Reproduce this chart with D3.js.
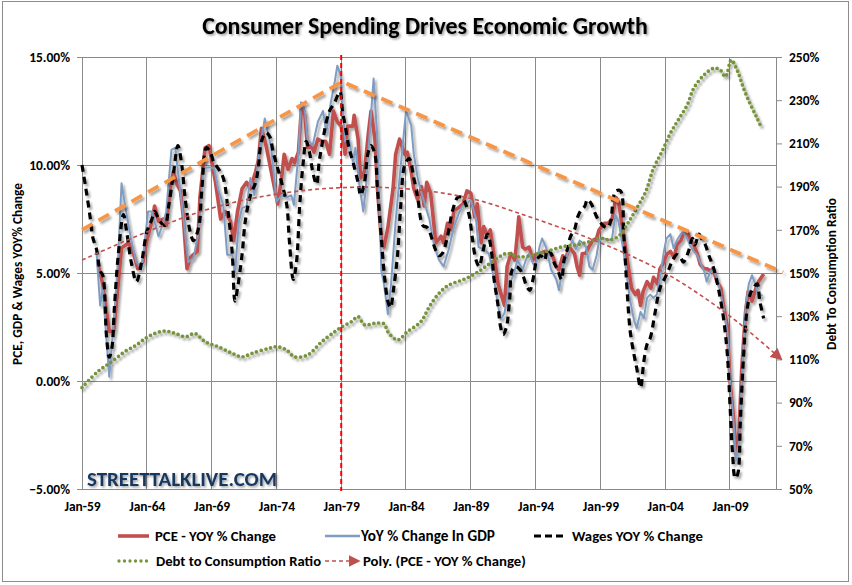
<!DOCTYPE html>
<html><head><meta charset="utf-8">
<script src="https://cdn.jsdelivr.net/npm/d3@7"></script>
<style>
html,body{margin:0;padding:0;background:#fff;}
svg{display:block;}
text{font-family:Carlito,Lato,"Open Sans",sans-serif;font-weight:bold;}
</style></head>
<body><svg id="c" width="852" height="585"></svg>
<script>
// ---------- DATA ----------
const title = "Consumer Spending Drives Economic Growth";
const leftTitle = "PCE, GDP & Wages YOY% Change";
const rightTitle = "Debt To Consumption Ratio";
const watermark = "STREETTALKLIVE.COM";
const xTickYears = [1959,1964,1969,1974,1979,1984,1989,1994,1999,2004,2009];
const xTickLabels = ["Jan-59","Jan-64","Jan-69","Jan-74","Jan-79","Jan-84","Jan-89","Jan-94","Jan-99","Jan-04","Jan-09"];
const leftTicks = [-5,0,5,10,15];
const rightTicks = [50,70,90,110,130,150,170,190,210,230,250];
const seriesNames = ["PCE - YOY % Change","YoY % Change In GDP","Wages YOY % Change","Debt to Consumption Ratio","Poly. (PCE - YOY % Change)"];

const pce = [[1960.2,5.5],[1960.6,4.5],[1961.1,2.3],[1961.45,2.3],[1962.05,6.15],[1962.6,6.4],[1963.0,5.85],[1963.3,5.2],[1963.7,5.5],[1964.0,6.5],[1964.4,7.4],[1964.6,8.1],[1964.9,7.4],[1965.3,7.5],[1965.5,7.2],[1965.8,8.9],[1966.05,9.7],[1966.3,9.15],[1966.6,8.8],[1966.8,7.7],[1967.1,5.2],[1967.35,5.7],[1967.6,5.85],[1967.9,6.0],[1968.1,8.5],[1968.5,10.8],[1968.8,10.9],[1969.1,9.85],[1969.3,9.2],[1969.7,7.5],[1970.05,7.85],[1970.45,7.4],[1970.7,6.5],[1971.0,7.85],[1971.35,8.9],[1971.7,9.2],[1972.0,8.9],[1972.4,9.7],[1972.6,10.2],[1972.85,11.7],[1973.2,10.9],[1973.5,10.0],[1973.9,8.8],[1974.1,8.2],[1974.4,9.4],[1974.6,10.5],[1974.9,9.8],[1975.2,10.3],[1975.4,10.1],[1975.7,10.6],[1975.95,12.8],[1976.2,12.3],[1976.4,10.8],[1976.7,10.9],[1976.9,10.6],[1977.2,11.2],[1977.5,11.1],[1977.8,11.1],[1978.1,10.5],[1978.4,12.5],[1978.7,12.0],[1979.0,11.8],[1979.3,10.5],[1979.5,11.8],[1979.9,11.8],[1980.0,12.3],[1980.3,11.2],[1980.5,9.4],[1980.8,9.7],[1981.1,11.5],[1981.3,12.5],[1981.6,11.2],[1981.8,8.9],[1982.1,6.5],[1982.3,6.2],[1982.6,7.1],[1983.0,8.9],[1983.2,10.5],[1983.5,11.2],[1983.9,10.5],[1984.1,10.6],[1984.4,9.7],[1984.6,8.9],[1984.9,8.4],[1985.2,9.0],[1985.4,8.1],[1985.6,9.2],[1985.9,8.7],[1986.3,6.4],[1986.7,6.7],[1986.9,6.4],[1987.2,7.3],[1987.5,7.0],[1987.7,7.9],[1988.0,8.0],[1988.4,8.2],[1988.7,8.8],[1989.0,8.7],[1989.3,7.6],[1989.5,8.2],[1989.8,6.4],[1990.0,7.15],[1990.3,6.7],[1990.5,7.0],[1990.8,5.8],[1991.1,4.5],[1991.3,4.1],[1991.6,3.5],[1991.8,5.3],[1992.1,5.9],[1992.4,5.6],[1992.6,6.85],[1992.7,7.6],[1993.0,6.2],[1993.2,6.1],[1993.5,6.2],[1993.8,5.6],[1994.0,5.85],[1994.3,5.9],[1994.7,6.0],[1995.1,5.9],[1995.3,5.8],[1995.6,5.3],[1995.8,5.15],[1996.1,5.8],[1996.3,5.6],[1996.6,6.2],[1997.0,5.9],[1997.2,5.3],[1997.4,4.9],[1997.6,5.9],[1997.85,5.9],[1998.1,6.2],[1998.4,6.5],[1998.7,6.6],[1998.9,7.0],[1999.3,7.3],[1999.6,7.3],[1999.9,7.5],[2000.2,8.5],[2000.4,8.3],[2000.7,7.1],[2001.1,5.5],[2001.4,4.3],[2001.7,4.0],[2001.9,4.2],[2002.1,3.5],[2002.3,4.15],[2002.6,4.6],[2002.9,4.3],[2003.1,4.8],[2003.4,4.5],[2003.6,5.2],[2003.9,5.5],[2004.1,5.85],[2004.4,6.0],[2004.7,5.7],[2004.9,6.3],[2005.2,6.5],[2005.4,6.8],[2005.7,6.9],[2005.9,6.6],[2006.2,6.3],[2006.5,5.85],[2006.7,5.4],[2007.0,5.2],[2007.2,5.2],[2007.5,5.1],[2007.7,5.2],[2008.0,4.6],[2008.3,4.3],[2008.5,3.5],[2008.8,2.5],[2009.0,0.0],[2009.3,-1.85],[2009.45,-3.4],[2009.7,-2.3],[2009.9,0.5],[2010.2,3.2],[2010.4,4.15],[2010.7,3.7],[2011.0,4.3],[2011.2,4.6],[2011.6,4.95]];

const gdp = [[1960.1,6.15],[1960.4,3.5],[1960.6,4.3],[1961.1,0.2],[1961.5,3.1],[1961.8,5.85],[1962.05,9.15],[1962.4,7.85],[1962.8,6.5],[1963.2,5.5],[1963.6,5.2],[1964.1,7.85],[1964.4,7.85],[1964.9,6.7],[1965.2,7.2],[1965.5,7.85],[1965.9,10.7],[1966.2,10.8],[1966.4,9.7],[1966.8,7.7],[1967.2,5.5],[1967.6,5.7],[1968.0,6.9],[1968.4,9.85],[1968.8,9.9],[1969.2,9.85],[1969.5,8.9],[1969.9,8.15],[1970.2,5.85],[1970.6,5.85],[1970.8,4.9],[1971.1,7.4],[1971.35,8.0],[1971.7,8.1],[1972.0,9.4],[1972.3,8.6],[1972.6,10.3],[1973.1,12.15],[1973.6,10.8],[1974.0,8.3],[1974.4,8.6],[1974.8,8.5],[1975.15,8.6],[1975.35,8.15],[1975.7,10.5],[1975.9,12.9],[1976.2,12.5],[1976.4,11.2],[1976.8,10.9],[1977.2,12.0],[1977.6,12.5],[1977.85,11.5],[1978.2,12.9],[1978.5,13.85],[1978.7,14.6],[1978.95,14.15],[1979.3,11.1],[1979.6,11.2],[1979.9,10.15],[1980.1,10.8],[1980.4,9.1],[1980.7,7.85],[1980.9,8.9],[1981.2,11.5],[1981.5,14.0],[1981.8,11.1],[1982.1,5.1],[1982.3,4.5],[1982.6,3.1],[1982.85,4.5],[1983.2,7.4],[1983.6,10.0],[1984.0,12.5],[1984.4,11.85],[1984.6,10.5],[1984.9,9.4],[1985.15,8.8],[1985.4,8.3],[1985.8,7.5],[1986.2,6.2],[1986.55,5.6],[1986.9,5.3],[1987.3,6.1],[1987.7,7.15],[1988.1,7.8],[1988.35,8.1],[1988.7,8.2],[1989.0,8.4],[1989.4,7.5],[1989.6,6.2],[1990.0,6.1],[1990.4,5.9],[1990.8,4.7],[1991.1,3.5],[1991.3,2.85],[1991.6,3.15],[1992.0,4.5],[1992.35,5.0],[1992.6,5.6],[1993.0,5.15],[1993.25,5.6],[1993.5,5.9],[1993.8,5.45],[1994.0,5.3],[1994.3,6.2],[1994.5,6.6],[1994.8,6.2],[1995.2,5.15],[1995.6,4.7],[1995.8,4.2],[1996.1,5.3],[1996.35,5.6],[1996.6,6.2],[1996.85,6.5],[1997.1,6.1],[1997.4,6.5],[1997.6,6.4],[1997.9,6.2],[1998.15,5.3],[1998.4,5.15],[1998.7,5.8],[1998.9,6.5],[1999.3,6.6],[1999.6,6.5],[1999.9,6.6],[2000.15,7.7],[2000.4,7.4],[2000.7,6.3],[2000.9,5.5],[2001.3,3.7],[2001.6,2.8],[2001.8,2.45],[2002.1,3.2],[2002.35,2.9],[2002.6,3.85],[2002.85,4.0],[2003.1,3.85],[2003.35,4.0],[2003.6,4.8],[2003.9,6.0],[2004.1,6.6],[2004.4,6.8],[2004.65,6.15],[2004.9,6.5],[2005.2,6.8],[2005.4,6.9],[2005.7,6.6],[2005.9,6.3],[2006.2,6.0],[2006.45,5.85],[2006.7,5.5],[2007.0,5.1],[2007.2,4.6],[2007.5,5.1],[2007.7,5.1],[2008.0,4.8],[2008.25,4.15],[2008.5,3.4],[2008.8,2.3],[2009.0,0.0],[2009.3,-2.15],[2009.45,-3.7],[2009.7,-2.8],[2009.9,0.0],[2010.2,3.4],[2010.45,4.5],[2010.7,4.9],[2010.95,4.5],[2011.2,3.85],[2011.5,4.0]];

const wages = [[1959.0,10.0],[1959.3,8.9],[1959.6,7.7],[1959.85,6.6],[1960.1,6.15],[1960.4,5.1],[1960.6,4.9],[1960.9,2.0],[1961.1,1.1],[1961.3,1.5],[1961.5,3.4],[1961.8,5.85],[1962.2,7.7],[1962.45,6.9],[1962.8,5.5],[1963.2,4.6],[1963.6,5.5],[1964.0,6.9],[1964.4,7.5],[1964.6,7.85],[1965.0,7.4],[1965.4,7.2],[1965.7,8.15],[1966.05,9.55],[1966.4,10.9],[1966.7,10.0],[1966.95,8.5],[1967.35,6.9],[1967.6,6.5],[1968.0,7.1],[1968.25,8.9],[1968.6,10.8],[1968.9,10.6],[1969.15,10.15],[1969.5,9.85],[1969.9,9.4],[1970.3,7.7],[1970.6,5.85],[1970.8,3.7],[1971.0,4.3],[1971.35,5.85],[1971.6,7.4],[1972.0,8.6],[1972.4,9.2],[1972.6,9.85],[1972.85,11.1],[1973.2,11.5],[1973.5,11.3],[1973.75,10.6],[1974.1,9.85],[1974.4,9.2],[1974.8,8.15],[1975.0,6.5],[1975.3,4.7],[1975.55,5.5],[1975.8,8.15],[1976.05,10.0],[1976.3,11.1],[1976.55,10.6],[1976.8,9.7],[1977.1,9.1],[1977.3,10.15],[1977.6,11.2],[1977.85,12.0],[1978.1,12.5],[1978.5,12.9],[1978.9,13.4],[1979.1,12.5],[1979.4,11.5],[1979.6,10.8],[1979.9,10.15],[1980.3,9.2],[1980.5,8.6],[1980.8,9.2],[1981.05,10.5],[1981.3,10.9],[1981.6,10.5],[1981.8,8.9],[1982.1,6.6],[1982.3,5.1],[1982.6,3.7],[1982.8,3.4],[1983.05,4.3],[1983.35,5.85],[1983.6,8.15],[1983.9,10.0],[1984.25,10.3],[1984.6,9.4],[1984.9,8.5],[1985.3,7.2],[1985.65,7.1],[1986.05,6.5],[1986.2,6.2],[1986.55,5.8],[1986.8,5.9],[1987.2,6.7],[1987.6,7.9],[1988.0,8.5],[1988.35,8.5],[1988.6,8.2],[1988.9,7.6],[1989.1,6.7],[1989.4,5.6],[1989.65,5.3],[1989.9,5.9],[1990.3,6.8],[1990.55,6.2],[1990.8,4.7],[1991.1,3.5],[1991.3,2.5],[1991.5,2.15],[1991.75,2.5],[1992.0,3.8],[1992.2,5.15],[1992.5,5.3],[1992.8,5.15],[1993.05,4.85],[1993.3,4.4],[1993.55,4.2],[1993.8,4.7],[1994.1,5.6],[1994.4,5.8],[1994.7,5.6],[1994.9,6.1],[1995.2,5.9],[1995.45,5.45],[1995.7,5.15],[1996.0,4.7],[1996.2,5.6],[1996.5,6.2],[1996.7,6.7],[1997.0,7.0],[1997.25,7.6],[1997.5,7.9],[1997.8,8.1],[1998.0,8.4],[1998.3,8.2],[1998.5,7.9],[1998.8,7.5],[1999.05,7.3],[1999.3,7.15],[1999.55,7.1],[1999.8,7.4],[2000.0,8.5],[2000.2,8.8],[2000.55,8.8],[2000.8,6.8],[2001.05,4.3],[2001.3,2.3],[2001.6,1.2],[2001.8,0.6],[2002.1,-0.3],[2002.35,0.9],[2002.6,1.7],[2002.85,2.0],[2003.2,3.1],[2003.6,4.3],[2004.0,4.8],[2004.3,5.2],[2004.5,5.5],[2004.9,5.85],[2005.2,5.7],[2005.4,5.5],[2005.8,6.0],[2006.1,6.6],[2006.3,6.3],[2006.6,6.8],[2006.8,6.6],[2007.1,6.3],[2007.35,5.85],[2007.75,5.2],[2008.1,4.3],[2008.5,2.9],[2008.8,1.2],[2009.0,-1.1],[2009.2,-3.4],[2009.4,-4.5],[2009.6,-4.3],[2009.8,-1.85],[2010.05,1.2],[2010.3,3.2],[2010.55,4.0],[2010.8,4.3],[2011.1,4.5],[2011.3,3.7],[2011.6,2.9]];

const debtRatio = [[1959.0,97],[1960.2,104.3],[1961.3,109],[1962.3,113.6],[1963.2,116.7],[1963.9,119.8],[1964.6,122],[1965.4,123.1],[1966.2,122],[1967.0,120.5],[1967.7,122],[1968.5,118.2],[1969.5,115.9],[1970.6,112.8],[1971.35,111.2],[1972.1,112.8],[1973.4,115.1],[1974.1,115.9],[1974.8,114.3],[1975.4,111.2],[1976.4,112],[1977.5,118.2],[1978.5,122.8],[1979.05,125.1],[1979.8,127.5],[1980.3,129.8],[1980.8,126],[1981.6,126.7],[1982.3,126.5],[1982.6,122.8],[1983.35,119],[1984.1,122.8],[1985.15,127.5],[1985.8,134.4],[1986.55,140.6],[1987.3,144.4],[1988.35,146.8],[1989.4,149.9],[1990.3,153.7],[1991.2,157.5],[1991.8,159.1],[1992.7,157.5],[1993.8,158.3],[1994.8,159.9],[1996.1,162.2],[1997.1,163],[1998.15,164.5],[1999.0,166.1],[1999.8,165.3],[2000.5,167.6],[2001.2,173.8],[2001.8,180],[2002.5,187.7],[2003.1,198.5],[2003.75,206.2],[2004.4,214.7],[2005.0,220.8],[2005.7,227.8],[2006.2,235.5],[2007.0,241.7],[2007.75,244.8],[2008.25,244],[2008.65,240.9],[2009.1,248.6],[2009.55,244],[2010.05,235.5],[2010.6,227.8],[2011.1,221.6],[2011.45,217]];

// polynomial trendline of PCE
const polyTrend = [[1959,5.6],[1964,6.9],[1969,8.0],[1974,8.65],[1979,8.95],[1984,8.9],[1989,8.45],[1994,7.5],[1999,6.4],[2004,5.0],[2009,3.0],[2012.5,1.25]];
// hand-drawn orange peak trend lines
const peakTrend = [[1959,7.0],[1979.08,13.86],[2013.1,5.03]];
const markerYear = 1979;

// ---------- LAYOUT ----------
const svg = d3.select("#c");
const L = 82, R = 776, T = 57, B = 489;
const x = d3.scaleLinear().domain([1959, 2012.55]).range([L, R]);
const yL = d3.scaleLinear().domain([-5, 15]).range([B, T]);
const yR = d3.scaleLinear().domain([50, 250]).range([B, T]);

const defs = svg.append("defs");
const sh = defs.append("filter").attr("id","sh").attr("x","-10%").attr("y","-10%").attr("width","120%").attr("height","120%");
sh.append("feDropShadow").attr("dx",2).attr("dy",2.5).attr("stdDeviation",1.3).attr("flood-color","#000").attr("flood-opacity",0.35);
const tsh = defs.append("filter").attr("id","tsh").attr("x","-5%").attr("y","-20%").attr("width","110%").attr("height","150%");
tsh.append("feDropShadow").attr("dx",1.5).attr("dy",1.5).attr("stdDeviation",1).attr("flood-color","#000").attr("flood-opacity",0.4);
defs.append("marker").attr("id","arr").attr("viewBox","0 0 10 10").attr("refX",2).attr("refY",5)
  .attr("markerWidth",7.5).attr("markerHeight",7.5).attr("markerUnits","strokeWidth").attr("orient","auto")
  .append("path").attr("d","M0,0L10,5L0,10z").attr("fill","#C0504D");

// background & border
svg.append("rect").attr("x",0).attr("y",0).attr("width",852).attr("height",585).attr("fill","#fff");
svg.append("rect").attr("x",2.5).attr("y",1.5).attr("width",846).attr("height",580).attr("fill","none").attr("stroke","#8c8c8c").attr("stroke-width",1);

function fit(sel, target){
  const n = sel.node(); const w = n.getComputedTextLength();
  const fs = parseFloat(sel.attr("font-size"));
  if (w > 0) sel.attr("font-size", (fs*target/w).toFixed(2));
  return sel;
}

// title
fit(svg.append("text").attr("x",425).attr("y",34).attr("text-anchor","middle").attr("font-size",22)
  .attr("fill","#000").attr("filter","url(#tsh)").text(title), 446);

// gridlines
const grid = svg.append("g").attr("stroke","#8a8a8a").attr("stroke-width",1).attr("shape-rendering","crispEdges");
leftTicks.forEach(v=>grid.append("line").attr("x1",L).attr("x2",R).attr("y1",yL(v)).attr("y2",yL(v)));
xTickYears.forEach(v=>grid.append("line").attr("x1",x(v)).attr("x2",x(v)).attr("y1",T).attr("y2",B));
grid.append("line").attr("x1",R).attr("x2",R).attr("y1",T).attr("y2",B);

// axes
const axL = svg.append("g").attr("transform",`translate(${L},0)`)
  .call(d3.axisLeft(yL).tickValues(leftTicks).tickSize(5).tickPadding(7).tickFormat(d=>d3.format(".2f")(d)+"%"));
const axR = svg.append("g").attr("transform",`translate(${R},0)`)
  .call(d3.axisRight(yR).tickValues(rightTicks).tickSize(6).tickPadding(7).tickFormat(d=>d+"%"));
[axL,axR].forEach(a=>{
  a.select(".domain").attr("stroke","#8a8a8a");
  a.selectAll(".tick line").attr("stroke","#8a8a8a");
  a.selectAll("text").attr("font-size",13.5).attr("fill","#000").attr("font-family","Carlito,Lato,sans-serif");
});
const axB = svg.append("g").attr("transform",`translate(0,${B})`)
  .call(d3.axisBottom(x).tickValues(xTickYears).tickSize(0).tickPadding(12).tickFormat((d,i)=>xTickLabels[i]));
axB.select(".domain").remove();
axB.selectAll("text").attr("font-size",13.5).attr("fill","#000").attr("font-family","Carlito,Lato,sans-serif");

// axis titles
fit(svg.append("text").attr("transform","translate(22,274) rotate(-90)").attr("text-anchor","middle")
  .attr("font-size",12).attr("fill","#000").text(leftTitle), 182);
fit(svg.append("text").attr("transform","translate(836,274) rotate(-90)").attr("text-anchor","middle")
  .attr("font-size",12).attr("fill","#000").text(rightTitle), 152);

// series
const lineL = d3.line().x(d=>x(d[0])).y(d=>yL(d[1]));
const lineR = d3.line().x(d=>x(d[0])).y(d=>yR(d[1]));
const sg = svg.append("g").attr("filter","url(#sh)");
sg.append("path").datum(pce).attr("d",lineL).attr("fill","none").attr("stroke","#C0504D").attr("stroke-width",3.6).attr("stroke-linejoin","round");
sg.append("path").datum(gdp).attr("d",lineL).attr("fill","none").attr("stroke","#7F9CC2").attr("stroke-width",2).attr("stroke-linejoin","round");
sg.append("path").datum(wages).attr("d",lineL.curve(d3.curveCatmullRom)).attr("fill","none").attr("stroke","#000").attr("stroke-width",3.2).attr("stroke-dasharray","7,5");
sg.append("path").datum(debtRatio).attr("d",lineR.curve(d3.curveCatmullRom)).attr("fill","none").attr("stroke","#77933C").attr("stroke-width",3.7).attr("stroke-dasharray","0,4.8").attr("stroke-linecap","round");

// poly trend
const lineP = d3.line().x(d=>x(d[0])).y(d=>yL(d[1])).curve(d3.curveCatmullRom);
svg.append("path").datum(polyTrend).attr("d",lineP).attr("fill","none").attr("stroke","#C0504D").attr("stroke-width",1.6)
  .attr("stroke-dasharray","4,3").attr("marker-end","url(#arr)");

// orange peak trendlines
svg.append("path").datum(peakTrend).attr("d",d3.line().x(d=>x(d[0])).y(d=>yL(d[1]))).attr("fill","none")
  .attr("stroke","#F79646").attr("stroke-width",3.8).attr("stroke-dasharray","12,7").attr("filter","url(#sh)");

// red vertical marker line
svg.append("line").attr("x1",x(markerYear)).attr("x2",x(markerYear)).attr("y1",T-2).attr("y2",B+2)
  .attr("stroke","#FF0000").attr("stroke-width",2).attr("stroke-dasharray","5,3");

// watermark
fit(svg.append("text").attr("x",87).attr("y",486).attr("font-size",20).attr("fill","#17375E")
  .attr("filter","url(#tsh)").text(watermark), 190);

// legend
const lg = svg.append("g");
const rows = [
  {y:536, x1:118, x2:149, tx:155, tw:121, name:seriesNames[0], st:{stroke:"#C0504D","stroke-width":3.6}},
  {y:536, x1:325, x2:360, tx:361, tw:134, name:seriesNames[1], st:{stroke:"#7F9CC2","stroke-width":2.4}},
  {y:536, x1:534, x2:566, tx:572, tw:131, name:seriesNames[2], st:{stroke:"#000","stroke-width":3,"stroke-dasharray":"7,4"}},
  {y:561, x1:119, x2:149, tx:156, tw:165, name:seriesNames[3], st:{stroke:"#77933C","stroke-width":3.3,"stroke-dasharray":"0,5.5","stroke-linecap":"round"}},
  {y:561, x1:325, x2:351, tx:363, tw:163, name:seriesNames[4], st:{stroke:"#C0504D","stroke-width":1.6,"stroke-dasharray":"4,3","marker-end":"url(#arr)"}}
];
rows.forEach(r=>{
  const ln = lg.append("line").attr("x1",r.x1).attr("x2",r.x2).attr("y1",r.y).attr("y2",r.y);
  Object.entries(r.st).forEach(([k,v])=>ln.attr(k,v));
  fit(lg.append("text").attr("x",r.tx).attr("y",r.y).attr("dy","0.35em").attr("font-size",12.5).attr("fill","#000").text(r.name), r.tw);
});
</script></body></html>
